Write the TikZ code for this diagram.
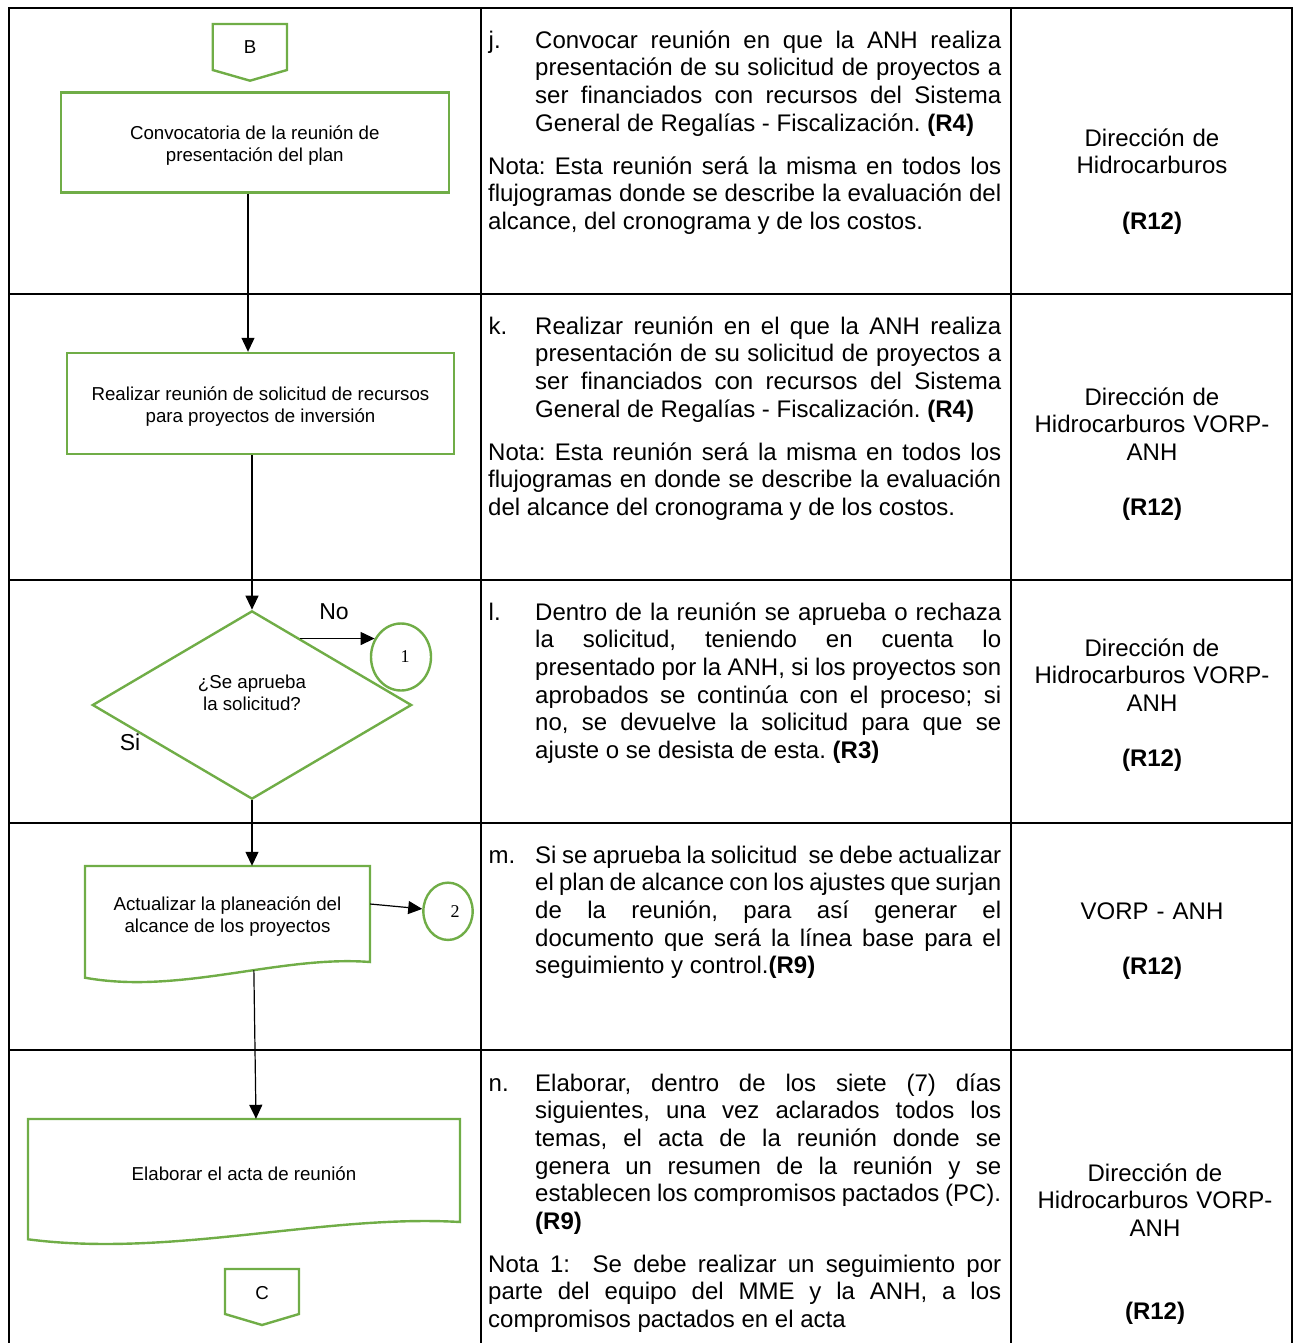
\documentclass[tikz,border=0pt]{standalone}
\usepackage{fontspec}
\setmainfont{Liberation Sans}[WordSpace={1,1,2}]
\newfontfamily\numfont{Liberation Serif}
\usetikzlibrary{arrows.meta,shapes.geometric,calc}
\definecolor{flowgreen}{RGB}{112,173,71}
\newcommand{\bodysize}{\fontsize{24}{27.6}\selectfont\frenchspacing\tolerance=9999\hbadness=10000\relax}
\newcommand{\chartsize}{\fontsize{18.7}{22}\selectfont}
\tikzset{
  tbl/.style={line width=2.4pt},
  flow/.style={draw=flowgreen, line width=2.4pt},
  arr/.style={line width=1.2pt, -{Triangle[length=14pt,width=13pt]}},
  para/.style={anchor=north west, inner sep=0pt, align=justify, font=\bodysize},
  lbl/.style={anchor=north west, inner sep=0pt, font=\bodysize},
  who/.style={anchor=north, inner sep=0pt, align=center, font=\bodysize, text width=280pt},
  chart/.style={font=\chartsize, align=center, inner sep=0pt},
  num/.style={flow, ellipse, inner sep=0pt, font=\numfont\fontsize{18}{22}\selectfont},
  yesno/.style={inner sep=0pt, font=\fontsize{23}{26}\selectfont},
}
\begin{document}
\begin{tikzpicture}[x=1pt,y=-1pt]
\useasboundingbox (0,0) rectangle (1295,1343);

% ---- table grid ----
\draw[tbl] (9,1343) -- (9,8) -- (1292,8) -- (1292,1343);
\draw[tbl] (481,8) -- (481,1343);
\draw[tbl] (1011,8) -- (1011,1343);
\foreach \yy in {294,580,823,1050} \draw[tbl] (9,\yy) -- (1292,\yy);

% ---- flowchart column ----
% off-page connector B
\draw[flow] (212.7,24) -- (287,24) -- (287,70) -- (250,80.7) -- (212.7,70) -- cycle;
\node[chart] (pB) at (250,47) {B};

\node[flow, minimum width=388pt, minimum height=100pt] (b1) at (254.8,142.7) {};
\node[chart] (t1) at ([yshift=-3pt]b1.center) {Convocatoria de la reunión de\\presentación del plan};

\node[flow, minimum width=387pt, minimum height=101pt] (b2) at (260.5,403.5) {};
\node[chart] (t2) at ([yshift=-3pt]b2.center) {Realizar reunión de solicitud de recursos\\para proyectos de inversión};

\node[flow, diamond, minimum width=319.3pt, minimum height=188.3pt, inner sep=0pt] (dm) at (252,705) {};
\node[chart] (dq) at (252,693) {¿Se aprueba\\la solicitud?};

\node[num, minimum width=60pt, minimum height=67pt] (c1) at (401,657) {\hspace*{8pt}1};

% document shape: update scope planning
\node[minimum width=285pt, minimum height=96pt, inner sep=0pt] (b3) at (227.5,914) {};
\node[chart] (t3) at ([yshift=-3pt]b3.center) {Actualizar la planeación del\\alcance de los proyectos};
\draw[flow] (370,962) -- (370,866) -- (85,866) -- (85,977.7)
  .. controls (180,995) and (280,955) .. (370,962) coordinate[pos=0.585] (w3) -- cycle;

\node[num, minimum width=49.3pt, minimum height=57.3pt] (c2) at (448,911.3) {\hspace*{14pt}2};

% document shape: meeting minutes
\node[minimum width=432pt, minimum height=103pt, inner sep=0pt] (b4) at (244,1170.5) {};
\node[chart] (t4) at ([yshift=-3pt]b4.center) {Elaborar el acta de reunión};
\draw[flow] (460,1222) -- (460,1119) -- (28,1119) -- (28,1239.3)
  .. controls (172,1258) and (324,1214) .. (460,1222) -- cycle;

% off-page connector C
\draw[flow] (225,1269) -- (299,1269) -- (299,1314) -- (262,1325) -- (225,1314) -- cycle;
\node[chart] (pC) at (262,1293) {C};

% connectors
\draw[arr] ([xshift=-6.8pt]b1.south) -- ([xshift=-6.8pt]b1.south |- b2.north);
\draw[arr] (dm.north |- b2.south) -- (dm.north);
\coordinate (nostart) at ($(dm.north)!0.3!(dm.east)$);
\draw[arr] (c1.145 -| nostart) -- (c1.145);
\draw[arr] (dm.south) -- (dm.south |- b3.north);
\draw[arr] ([yshift=10pt]b3.east) -- (c2);
\draw[arr] (w3) -- ([xshift=12pt]b4.north);

\node[yesno] (no) at (334,611.5) {No};
\node[yesno] (si) at (130,742) {Si};

% ---- description column ----
\node[lbl] (lj) at (488.5,28.7) {\strut j.};
\node[para, text width=466pt] (tj) at (535,28.7) {\strut Convocar reunión en que la ANH realiza\linebreak presentación de su solicitud de proyectos a\linebreak ser financiados con recursos del Sistema\linebreak General de Regalías - Fiscalización. \textbf{(R4)}};
\node[para, text width=513pt] (nj) at (488,154.7) {\strut Nota: Esta reunión será la misma en todos los\linebreak flujogramas donde se describe la evaluación del\linebreak alcance, del cronograma y de los costos.};

\node[lbl] (lk) at (488.5,314.7) {\strut k.};
\node[para, text width=466pt] (tk) at (535,314.7) {\strut Realizar reunión en el que la ANH realiza\linebreak presentación de su solicitud de proyectos a\linebreak ser financiados con recursos del Sistema\linebreak General de Regalías - Fiscalización. \textbf{(R4)}};
\node[para, text width=513pt] (nk) at (488,440.7) {\strut Nota: Esta reunión será la misma en todos los\linebreak flujogramas en donde se describe la evaluación\linebreak del alcance del cronograma y de los costos.};

\node[lbl] (ll) at (488.5,600.7) {\strut l.};
\node[para, text width=466pt] (tl) at (535,600.7) {\strut Dentro de la reunión se aprueba o rechaza\linebreak la solicitud, teniendo en cuenta lo\linebreak presentado por la ANH, si los proyectos son\linebreak aprobados se continúa con el proceso; si\linebreak no, se devuelve la solicitud para que se\linebreak ajuste o se desista de esta. \textbf{(R3)}};

\node[lbl] (lm) at (488.5,843.7) {\strut m.};
\node[para, text width=466pt] (tm) at (535,843.7) {\strut Si se aprueba la solicitud\ \ se debe actualizar\linebreak el plan de alcance con los ajustes que surjan\linebreak de la reunión, para así generar el\linebreak documento que será la línea base para el\linebreak seguimiento y control.\textbf{(R9)}};

\node[lbl] (ln) at (488.5,1071.7) {\strut n.};
\node[para, text width=466pt] (tn) at (535,1071.7) {\strut Elaborar, dentro de los siete (7) días\linebreak siguientes, una vez aclarados todos los\linebreak temas, el acta de la reunión donde se\linebreak genera un resumen de la reunión y se\linebreak establecen los compromisos pactados (PC).\linebreak \textbf{(R9)}};
\node[para, text width=513pt] (nn) at (488,1252.7) {\strut Nota 1:\ \ Se debe realizar un seguimiento por\linebreak parte del equipo del MME y la ANH, a los\linebreak compromisos pactados en el acta};

% ---- responsible column ----
\node[who] (r1) at (1152,126.7) {\strut Dirección de\\Hidrocarburos\\[27.6pt]\textbf{(R12)}};
\node[who] (r2) at (1152,385.7) {\strut Dirección de\\Hidrocarburos VORP-\\ANH\\[27.6pt]\textbf{(R12)}};
\node[who] (r3) at (1152,636.7) {\strut Dirección de\\Hidrocarburos VORP-\\ANH\\[27.6pt]\textbf{(R12)}};
\node[who] (r4) at (1152,899.7) {\strut VORP - ANH\\[27.6pt]\textbf{(R12)}};
\node[who] (r5) at (1155,1161.7) {\strut Dirección de\\Hidrocarburos VORP-\\ANH\\[55.2pt]\textbf{(R12)}};
\end{tikzpicture}
\end{document}
